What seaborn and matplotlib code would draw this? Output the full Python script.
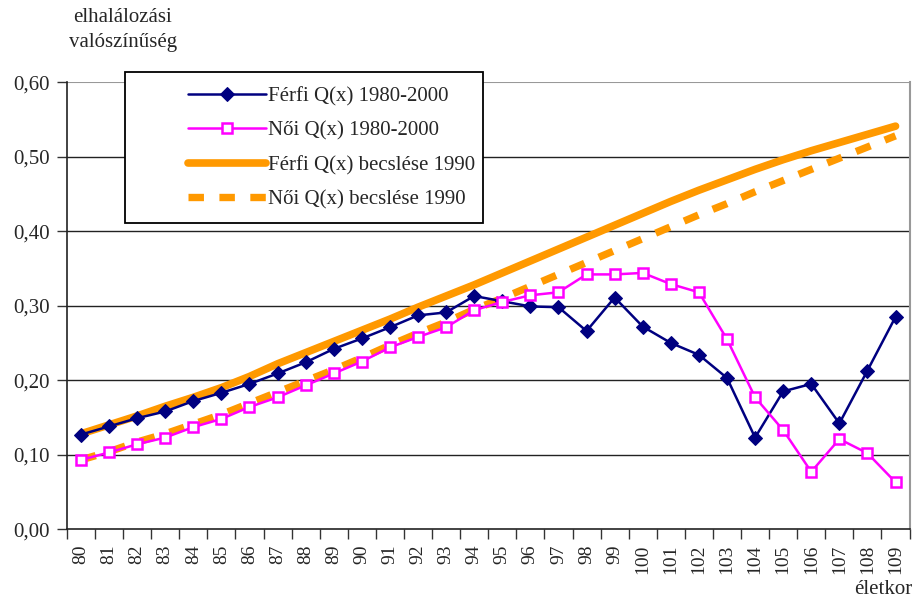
import numpy as np
import pandas as pd
import matplotlib
matplotlib.use("Agg")
import matplotlib.pyplot as plt
import seaborn as sns
from matplotlib.patches import Rectangle
from matplotlib.ticker import FuncFormatter, FixedLocator

# data
ages = list(range(80, 110))

ferfi_q = [0.127, 0.138, 0.149, 0.158, 0.172, 0.183, 0.195, 0.209, 0.224, 0.242,
           0.256, 0.271, 0.287, 0.291, 0.313, 0.306, 0.299, 0.298, 0.266, 0.311,
           0.272, 0.250, 0.234, 0.203, 0.123, 0.185, 0.195, 0.142, 0.213, 0.285]

noi_q = [0.093, 0.103, 0.114, 0.123, 0.137, 0.148, 0.164, 0.177, 0.193, 0.209,
         0.225, 0.244, 0.258, 0.271, 0.294, 0.305, 0.314, 0.318, 0.342, 0.342,
         0.344, 0.329, 0.318, 0.255, 0.177, 0.133, 0.077, 0.121, 0.102, 0.063]

ferfi_becsles = [0.128, 0.140, 0.152, 0.165, 0.177, 0.190, 0.205, 0.222, 0.237, 0.252,
                 0.267, 0.282, 0.298, 0.313, 0.328, 0.344, 0.360, 0.376, 0.392, 0.408,
                 0.424, 0.440, 0.455, 0.469, 0.483, 0.496, 0.508, 0.519, 0.530, 0.541]

noi_becsles = [0.093, 0.104, 0.117, 0.128, 0.141, 0.154, 0.169, 0.184, 0.199, 0.214,
               0.230, 0.247, 0.263, 0.278, 0.295, 0.310, 0.326, 0.342, 0.358, 0.374,
               0.390, 0.406, 0.422, 0.437, 0.453, 0.468, 0.483, 0.498, 0.513, 0.528]

labels = ["Férfi Q(x) 1980-2000", "Női Q(x) 1980-2000",
          "Férfi Q(x) becslése 1990", "Női Q(x) becslése 1990"]

NAVY = "#000080"
MAGENTA = "#FF00FF"
ORANGE = "#FF9900"

sns.set_style("white")
plt.rcParams["font.family"] = ["Liberation Serif", "DejaVu Serif"]
plt.rcParams["font.size"] = 15

fig = plt.figure(figsize=(9.16, 6), dpi=100)
ax = fig.add_axes([0.073, 0.118, 0.920, 0.745])

# horizontal gridlines
for yv in [0.1, 0.2, 0.3, 0.4, 0.5]:
    ax.axhline(yv, color="#222222", lw=1.0, zorder=0)
ax.axhline(0.6, color="#999999", lw=1.5, zorder=0)

sns.lineplot(x=ages, y=ferfi_becsles, ax=ax, color=ORANGE, lw=5.5,
             solid_capstyle="round", label=labels[2], zorder=2)
sns.lineplot(x=ages, y=noi_becsles, ax=ax, color=ORANGE, lw=5.3,
             linestyle=(0, (2.1, 2.1)), dash_capstyle="butt",
             label=labels[3], zorder=2)
sns.lineplot(x=ages, y=ferfi_q, ax=ax, color=NAVY, lw=1.8, marker="D",
             markersize=7, markeredgecolor=NAVY, markerfacecolor=NAVY,
             label=labels[0], zorder=3)
sns.lineplot(x=ages, y=noi_q, ax=ax, color=MAGENTA, lw=1.8, marker="s",
             markersize=7, markeredgecolor=MAGENTA, markerfacecolor="white",
             markeredgewidth=1.8, label=labels[1], zorder=3)

ax.set_xlim(79.5, 109.5)
ax.set_ylim(0, 0.6)
ax.set_yticks(np.arange(0, 0.61, 0.1))
ax.yaxis.set_major_formatter(FuncFormatter(lambda v, p: f"{v:.2f}".replace(".", ",")))
ax.tick_params(axis="y", direction="out", length=7, width=1, color="#333333", pad=5,
               labelsize=15, left=True)

# category axis: labels at centres, ticks between categories
ax.set_xticks(ages)
ax.set_xticklabels([str(a) for a in ages], rotation=90)
ax.tick_params(axis="x", which="major", length=0, pad=11, labelsize=14)
ax.xaxis.set_minor_locator(FixedLocator(np.arange(79.5, 110, 1.0)))
ax.tick_params(axis="x", which="minor", direction="out", length=7, width=1,
               color="#333333", bottom=True)

ax.set_xlabel("")
ax.set_ylabel("")
for side in ["left", "bottom"]:
    ax.spines[side].set_color("#222222")
    ax.spines[side].set_linewidth(1.2)
ax.spines["top"].set_visible(False)
ax.spines["right"].set_color("#999999")
ax.spines["right"].set_linewidth(1.5)

# legend in a separate frame
handles, labs = ax.get_legend_handles_labels()
order = [labs.index(l) for l in labels]
ax.get_legend().remove()
fig.patches.append(Rectangle((125 / 916, 1 - 223 / 600), 358 / 916, 151 / 600,
                             transform=fig.transFigure, facecolor="white",
                             edgecolor="black", lw=1.3, zorder=5))
leg = fig.legend([handles[i] for i in order], labels, loc="upper left",
                 bbox_to_anchor=(178 / 916, 1 - 76 / 600), frameon=False,
                 fontsize=15, handlelength=3.7, handletextpad=0.1,
                 labelspacing=0.72, borderpad=0.0)
leg.set_zorder(6)

fig.text(123 / 916, 1 - 30 / 600, "elhalálozási\nvalószínűség", ha="center",
         va="center", fontsize=15, linespacing=1.45)
fig.text(912 / 916, 1 - 590 / 600, "életkor", ha="right", va="center", fontsize=15)

fig.savefig("out.png", dpi=100)
